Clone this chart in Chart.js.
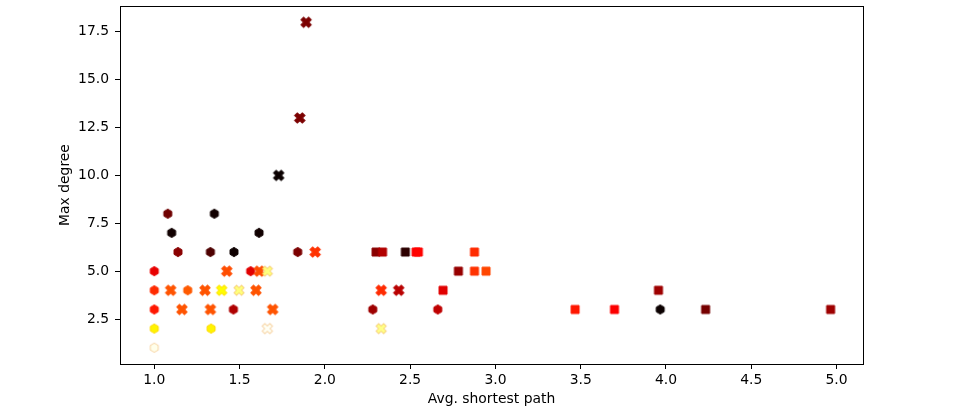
<!DOCTYPE html>
<html>
<head>
<meta charset="utf-8">
<script src="https://cdn.jsdelivr.net/npm/chart.js@4.4.0/dist/chart.umd.min.js"></script>
<style>
  html, body { margin: 0; padding: 0; background: #fff; }
  #chart { display: block; }
</style>
</head>
<body>
<canvas id="chart" width="958" height="415"></canvas>
<script>
// hexagon markers
const hexX = [1.0, 1.0, 1.0, 1.0, 1.0, 1.079, 1.102, 1.139, 1.196, 1.329, 1.333, 1.352, 1.467, 1.464, 1.565, 1.614, 1.841, 2.281, 2.662, 3.966];
const hexY = [5, 4, 3, 2, 1, 8, 7, 6, 4, 6, 2, 8, 6, 3, 5, 7, 6, 3, 3, 3];
const hexC = [0.33, 0.43, 0.40, 0.73, 0.98, 0.15, 0.01, 0.19, 0.50, 0.10, 0.73, 0.01, 0.005, 0.245, 0.32, 0.01, 0.17, 0.22, 0.27, 0.0];

// filled X markers
const crossX = [1.096, 1.162, 1.297, 1.329, 1.395, 1.425, 1.497, 1.596, 1.616, 1.663, 1.663, 1.694, 1.729, 1.853, 1.890, 1.943, 2.330, 2.330, 2.433];
const crossY = [4, 3, 4, 3, 4, 5, 4, 4, 5, 5, 2, 3, 10, 13, 18, 6, 4, 2, 4];
const crossC = [0.49, 0.49, 0.49, 0.49, 0.745, 0.48, 0.87, 0.49, 0.48, 0.87, 0.99, 0.49, 0.0, 0.17, 0.17, 0.44, 0.43, 0.88, 0.26];

// square markers
const sqX = [2.300, 2.338, 2.472, 2.535, 2.548, 2.693, 2.783, 2.877, 2.877, 2.945, 3.467, 3.698, 3.956, 4.232, 4.965];
const sqY = [6, 6, 6, 6, 6, 4, 5, 6, 5, 5, 3, 3, 4, 3, 3];
const sqC = [0.19, 0.25, 0.05, 0.36, 0.37, 0.32, 0.21, 0.43, 0.44, 0.47, 0.40, 0.36, 0.22, 0.16, 0.22];

const xTicks = [1.0, 1.5, 2.0, 2.5, 3.0, 3.5, 4.0, 4.5, 5.0];
const yTicks = [2.5, 5.0, 7.5, 10.0, 12.5, 15.0, 17.5];

// matplotlib 'hot' colormap
function hot(v) {
  const cl = t => Math.max(0, Math.min(1, t));
  const r = cl(0.0416 + v / 0.365079 * (1 - 0.0416));
  const g = cl((v - 0.365079) / (0.746032 - 0.365079));
  const b = cl((v - 0.746032) / (1 - 0.746032));
  return `rgb(${Math.round(r * 255)},${Math.round(g * 255)},${Math.round(b * 255)})`;
}

const markerCache = {};
function marker(shape, v) {
  const key = shape + ':' + v;
  if (markerCache[key]) return markerCache[key];
  const c = document.createElement('canvas');
  c.width = 16; c.height = 16;
  const g = c.getContext('2d');
  g.translate(8, 8);
  g.beginPath();
  if (shape === 'hex') {
    for (let i = 0; i < 6; i++) {
      const a = -Math.PI / 2 + i * Math.PI / 3;
      g.lineTo(4.6 * Math.cos(a), 4.6 * Math.sin(a));
    }
  } else if (shape === 'x') {
    const L = 5.4, w = 1.9;
    g.rotate(Math.PI / 4);
    [[-w, -L], [w, -L], [w, -w], [L, -w], [L, w], [w, w], [w, L], [-w, L], [-w, w], [-L, w], [-L, -w], [-w, -w]]
      .forEach(p => g.lineTo(p[0], p[1]));
  } else {
    g.rect(-4, -4, 8, 8);
  }
  g.closePath();
  g.fillStyle = hot(v);
  g.fill();
  g.lineWidth = 1;
  if (v > 0.8) g.strokeStyle = 'rgba(240,170,80,0.5)';
  else if (v > 0.6) g.strokeStyle = hot(v - 0.04);
  else g.strokeStyle = hot(v);
  g.stroke();
  markerCache[key] = c;
  return c;
}

function series(xs, ys, cs, shape, order) {
  return {
    data: xs.map((x, i) => ({ x, y: ys[i], c: cs[i] })),
    pointStyle: ctx => marker(shape, ctx.raw ? ctx.raw.c : 0),
    pointRadius: 5,
    order,
  };
}

const font = { family: 'DejaVu Sans', size: 13.9 };

const frame = {
  id: 'frame',
  afterDraw(chart) {
    const { ctx, chartArea: a } = chart;
    ctx.save();
    ctx.strokeStyle = '#000';
    ctx.lineWidth = 1;
    ctx.strokeRect(Math.round(a.left) + 0.5, Math.round(a.top) + 0.5,
      Math.round(a.right - a.left), Math.round(a.bottom - a.top));
    ctx.restore();
  }
};

new Chart(document.getElementById('chart'), {
  type: 'scatter',
  data: {
    datasets: [
      series(hexX, hexY, hexC, 'hex', 3),
      series(crossX, crossY, crossC, 'x', 2),
      series(sqX, sqY, sqC, 'sq', 1),
    ]
  },
  options: {
    responsive: false,
    animation: false,
    layout: { padding: { top: 4, right: 95, left: 0, bottom: 0 } },
    plugins: { legend: { display: false }, tooltip: { enabled: false } },
    scales: {
      x: {
        type: 'linear',
        min: 0.799,
        max: 5.155,
        afterBuildTicks: s => { s.ticks = xTicks.map(v => ({ value: v })); },
        afterFit: s => { s.height = 51; s.paddingLeft = 0; s.paddingRight = 0; },
        grid: { display: true, drawOnChartArea: false, drawTicks: true, tickLength: 5, color: '#000' },
        border: { display: true, color: '#000', width: 1 },
        ticks: { color: '#000', font, padding: 3, maxRotation: 0, callback: v => v.toFixed(1) },
        title: { display: true, text: 'Avg. shortest path', color: '#000', font, padding: { top: 0, bottom: 7 } },
      },
      y: {
        type: 'linear',
        min: 0.15,
        max: 18.85,
        afterBuildTicks: s => { s.ticks = yTicks.map(v => ({ value: v })); },
        afterFit: s => { s.width = 120; s.paddingTop = 0; s.paddingBottom = 0; },
        grid: { display: true, drawOnChartArea: false, drawTicks: true, tickLength: 5, color: '#000' },
        border: { display: true, color: '#000', width: 1 },
        ticks: { color: '#000', font, padding: 6, callback: v => v.toFixed(1) },
        title: { display: true, text: 'Max degree', color: '#000', font, padding: { top: 57, bottom: 0 } },
      }
    }
  },
  plugins: [frame]
});
</script>
</body>
</html>
